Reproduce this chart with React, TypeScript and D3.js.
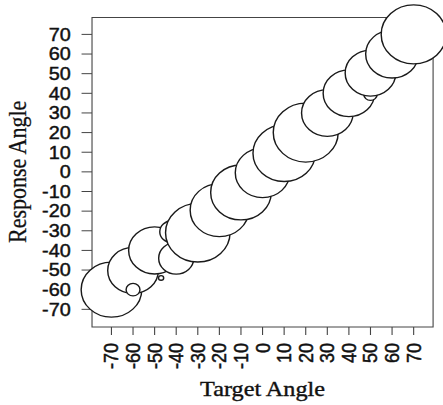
import React from "react";
import * as d3 from "d3";

// ---- data ----
const targetAngle = [-70, -60, -60, -50, -47, -42, -40, -30, -20, -10, 0, 10, 20, 30, 40, 50, 50, 60, 70];
const responseAngle = [-60, -50.2, -60, -40, -54, -30.5, -44, -31, -19.5, -10.5, -0.5, 9.5, 20, 30, 40, 39.5, 50.3, 60, 70];
const bubbleRadius = [14.0, 11.7, 3.2, 12.0, 1.2, 5.6, 8.1, 14.9, 13.5, 14.0, 12.6, 14.4, 15.0, 11.9, 11.9, 3.1, 11.7, 12.2, 15.0];

const xTickValues = [-70, -60, -50, -40, -30, -20, -10, 0, 10, 20, 30, 40, 50, 60, 70];
const yTickValues = [-70, -60, -50, -40, -30, -20, -10, 0, 10, 20, 30, 40, 50, 60, 70];

const xTitle = "Target Angle";
const yTitle = "Response Angle";

const W = 443;
const H = 405;
const K = 1.102; // horizontal stretch of the whole figure

export default function App() {
  const x = d3.scaleLinear().domain([-79, 79]).range([83.5, 393]);
  const y = d3.scaleLinear().domain([-79, 78.6]).range([327, 17.5]);
  const rPx = (r: number) => Math.abs(y(r) - y(0));
  const [x0, x1] = x.range();
  const [y0, y1] = y.range();
  const sans = "'Liberation Sans', Arial, sans-serif";
  const serif = "'Liberation Serif', 'Times New Roman', serif";
  const labelStyle = { fill: "#111", stroke: "#111", strokeWidth: 0.45 };

  return (
    <svg
      width={W}
      height={H}
      style={{ position: "absolute", left: 0, top: 0, background: "#fff" }}
    >
      <rect x={0} y={0} width={W} height={H} fill="#fff" />
      <g transform={`scale(${K},1)`}>
        {/* box */}
        <rect x={x0} y={y1} width={x1 - x0} height={y0 - y1} fill="none" stroke="#444" strokeWidth={1} />
        {/* y ticks */}
        {yTickValues.map((v) => (
          <g key={"y" + v}>
            <line x1={x0 - 9.5} x2={x0} y1={y(v)} y2={y(v)} stroke="#444" strokeWidth={1} />
            <text x={64.2} y={y(v)} dy="0.35em" textAnchor="end" fontFamily={sans} fontSize={18} style={labelStyle}>
              {v}
            </text>
          </g>
        ))}
        {/* x ticks */}
        {xTickValues.map((v) => (
          <g key={"x" + v}>
            <line x1={x(v)} x2={x(v)} y1={y0} y2={y0 + 8} stroke="#444" strokeWidth={1} />
            <text
              transform={`translate(${x(v)},343) rotate(-90)`}
              dy="0.35em"
              textAnchor="end"
              fontFamily={sans}
              fontSize={18}
              style={labelStyle}
            >
              {v}
            </text>
          </g>
        ))}
        {/* bubbles */}
        {targetAngle.map((t, i) => (
          <circle
            key={"c" + i}
            cx={x(t)}
            cy={y(responseAngle[i])}
            r={rPx(bubbleRadius[i])}
            fill="#fff"
            stroke="#1a1a1a"
            strokeWidth={1.3}
          />
        ))}
        {/* titles */}
        <text x={x(0)} y={396} textAnchor="middle" fontFamily={serif} fontSize={22} style={{ ...labelStyle, strokeWidth: 0.4 }}>
          {xTitle}
        </text>
        <text
          transform={`translate(23.5,${y(0)}) rotate(-90)`}
          textAnchor="middle"
          fontFamily={serif}
          fontSize={22}
          style={{ ...labelStyle, strokeWidth: 0.25 }}
        >
          {yTitle}
        </text>
      </g>
    </svg>
  );
}
